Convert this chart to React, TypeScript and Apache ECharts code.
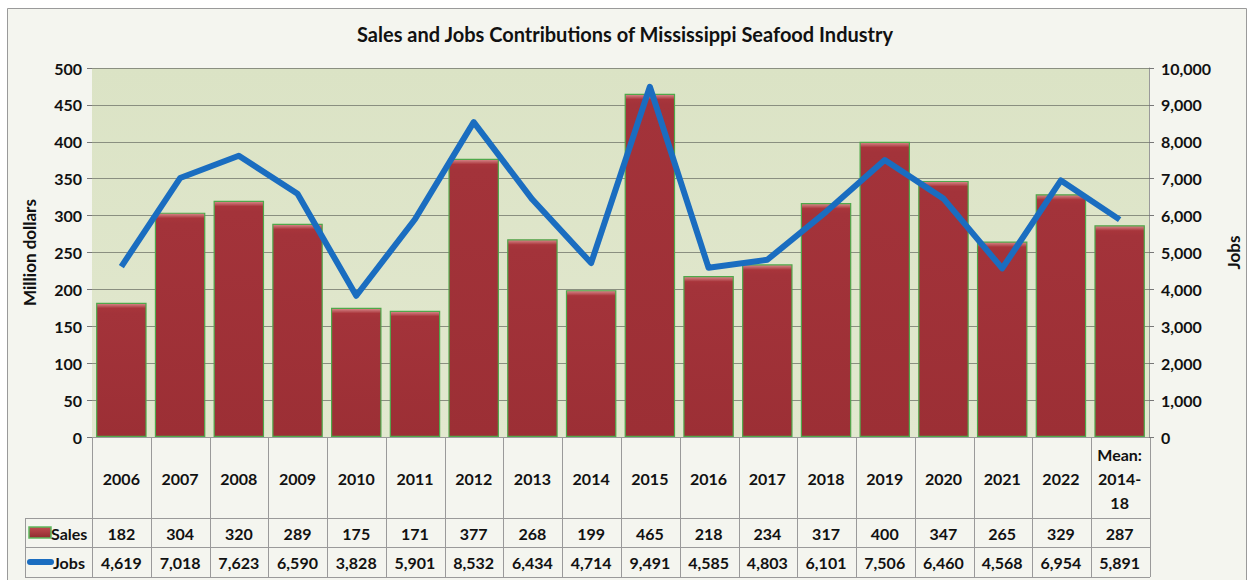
import React, { useEffect, useRef } from "react";
import * as echarts from "echarts";

const categories = ["2006","2007","2008","2009","2010","2011","2012","2013","2014","2015","2016","2017","2018","2019","2020","2021","2022","Mean:\n2014-\n18"];
const sales = [182,304,320,289,175,171,377,268,199,465,218,234,317,400,347,265,329,287];
const jobs = [4619,7018,7623,6590,3828,5901,8532,6434,4714,9491,4585,4803,6101,7506,6460,4568,6954,5891];
const leftTicks = { min: 0, max: 500, interval: 50 };
const rightTicks = { min: 0, max: 10000, interval: 1000 };
const title = "Sales and Jobs Contributions of Mississippi Seafood Industry";

const W = 1250, H = 580;
const GL = 92, GR = 1150, GT = 68, GB = 437;
const FONT = "Lato";

const fmt = (v: number) => v.toLocaleString("en-US");

export default function App() {
  const ref = useRef<HTMLDivElement>(null);
  useEffect(() => {
    document.body.style.margin = "0";
    const chart = echarts.init(ref.current!, null, { renderer: "svg" });
    const n = categories.length;
    const cw = (GR - GL) / n;
    const rowY = [GB, 518, 547, 577];
    const lineStyle = { stroke: "#9a9a9a", lineWidth: 1 };
    const graphics: any[] = [];
    graphics.push({ type: "rect", shape: { x: 7.5, y: 8.5, width: 1239, height: 580 }, style: { fill: "#f4f5ef", stroke: "#9a9a9a", lineWidth: 1 }, z: -10 });
    for (let i = 0; i <= n; i++) {
      const x = Math.round(GL + i * cw) + 0.5;
      graphics.push({ type: "line", shape: { x1: x, y1: GB, x2: x, y2: rowY[3] }, style: lineStyle });
    }
    graphics.push({ type: "line", shape: { x1: 25.5, y1: rowY[1], x2: 25.5, y2: rowY[3] }, style: lineStyle });
    for (let r = 1; r <= 3; r++) {
      graphics.push({ type: "line", shape: { x1: 25, y1: rowY[r] + 0.5, x2: GR, y2: rowY[r] + 0.5 }, style: lineStyle });
    }
    graphics.push({ type: "rect", shape: { x: 29, y: 527, width: 22, height: 11 }, style: { fill: new echarts.graphic.LinearGradient(0, 0, 0, 1, [{ offset: 0, color: "#c24a50" }, { offset: 1, color: "#8f2a2f" }]), stroke: "#5cb85c", lineWidth: 1.5 } });
    graphics.push({ type: "text", x: 51, y: 533, style: { text: "Sales", font: `bold 16px ${FONT}`, fill: "#111", verticalAlign: "middle" } });
    graphics.push({ type: "line", shape: { x1: 30, y1: 562, x2: 51, y2: 562 }, style: { stroke: "#1a6dc0", lineWidth: 6, lineCap: "round" } });
    graphics.push({ type: "text", x: 53, y: 562, style: { text: "Jobs", font: `bold 16px ${FONT}`, fill: "#111", verticalAlign: "middle" } });

    const hiddenAxis = (data: string[], margin: number) => ({
      type: "category", gridIndex: 0, position: "bottom", data,
      axisLine: { show: false }, axisTick: { show: false }, splitLine: { show: false },
      axisLabel: { interval: 0, margin, verticalAlign: "middle", fontFamily: FONT, fontWeight: "bold", fontSize: 16, color: "#111" },
    });

    const pxPerUnit = (GB - GT) / leftTicks.max;
    const barData = sales.map((v) => {
      const h = Math.max(v * pxPerUnit, 1);
      const o = Math.min(5 / h, 0.5);
      return {
        value: v,
        itemStyle: {
          color: new echarts.graphic.LinearGradient(0, 0, 0, 1, [
            { offset: 0, color: "#d98a8c" },
            { offset: o, color: "#a8353b" },
            { offset: Math.min(o * 2, 1), color: "#a3333a" },
            { offset: 1, color: "#9c2f35" },
          ]),
        },
      };
    });

    chart.setOption({
      animation: false,
      backgroundColor: "transparent",
      title: { text: title, left: "center", top: 19, textStyle: { fontFamily: FONT, fontWeight: "bold", fontSize: 20, color: "#111" } },
      grid: { left: GL, right: W - GR, top: GT, bottom: H - GB, show: true, backgroundColor: new echarts.graphic.LinearGradient(0, 0, 0, 1, [{ offset: 0, color: "#dbe3c5" }, { offset: 1, color: "#e2e8cf" }]), borderWidth: 0 },
      xAxis: [
        {
          type: "category", data: categories, gridIndex: 0, position: "bottom",
          axisLine: { show: true, lineStyle: { color: "#9a9a9a" } }, axisTick: { show: false },
          axisLabel: { interval: 0, margin: 41, verticalAlign: "middle", lineHeight: 24, fontFamily: FONT, fontWeight: "bold", fontSize: 16, color: "#111" },
        },
        hiddenAxis(sales.map(fmt), 96),
        hiddenAxis(jobs.map(fmt), 125),
      ],
      yAxis: [
        {
          type: "value", ...leftTicks, name: "Million dollars", nameLocation: "middle", nameGap: 54, nameRotate: 90,
          nameTextStyle: { fontFamily: FONT, fontWeight: "bold", fontSize: 17, color: "#111" },
          axisLine: { show: false }, axisTick: { show: true, length: 5, lineStyle: { color: "#777" } },
          axisLabel: { margin: 10, fontFamily: FONT, fontWeight: "bold", fontSize: 16, color: "#111" },
          splitLine: { show: true, lineStyle: { color: "#8a8f80", width: 1 } },
        },
        {
          type: "value", ...rightTicks, position: "right", name: "Jobs", nameLocation: "middle", nameGap: 76, nameRotate: 90,
          nameTextStyle: { fontFamily: FONT, fontWeight: "bold", fontSize: 17, color: "#111" },
          axisLine: { show: true, lineStyle: { color: "#9a9a9a" } }, axisTick: { show: true, length: 5, lineStyle: { color: "#777" } },
          axisLabel: { margin: 12, fontFamily: FONT, fontWeight: "bold", fontSize: 16, color: "#111", formatter: (v: number) => fmt(v) },
          splitLine: { show: false },
        },
      ],
      series: [
        {
          type: "bar", name: "Sales", data: barData, xAxisIndex: 0, yAxisIndex: 0, barCategoryGap: "14%",
          itemStyle: { borderColor: "#4fa84a", borderWidth: 1.2 },
        },
        {
          type: "line", name: "Jobs", data: jobs, xAxisIndex: 0, yAxisIndex: 1, showSymbol: false, symbol: "none",
          lineStyle: { color: "#1a6dc0", width: 6, join: "round" } as any, z: 5,
        },
      ],
      graphic: graphics,
    });
    return () => chart.dispose();
  }, []);
  return <div ref={ref} style={{ width: W, height: H }} />;
}
